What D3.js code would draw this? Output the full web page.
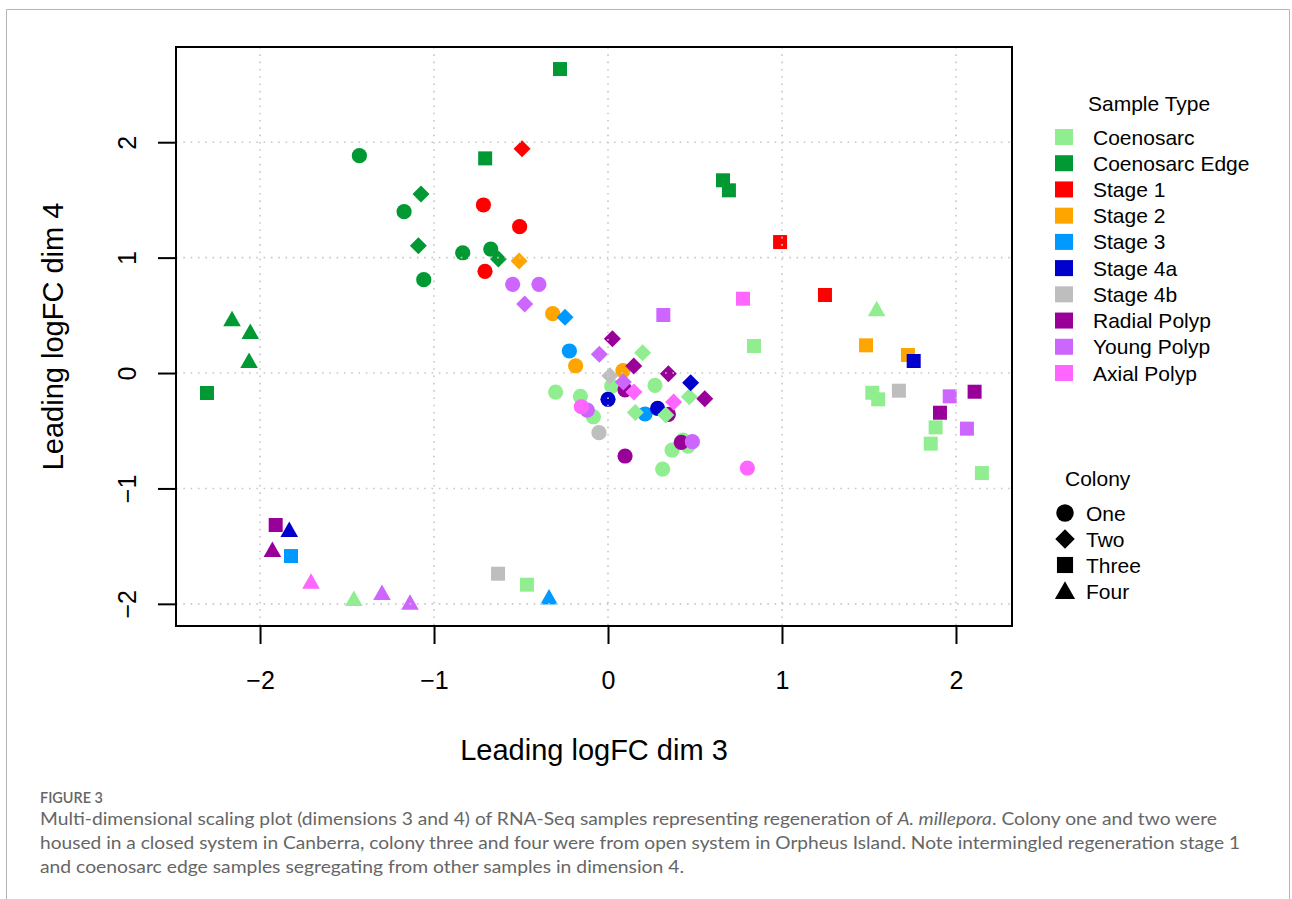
<!DOCTYPE html>
<html>
<head>
<meta charset="utf-8">
<script src="https://cdn.jsdelivr.net/npm/d3@7"></script>
<style>
  body { margin: 0; background: #fff; }
  svg { display: block; }
</style>
</head>
<body>
<div id="chart"></div>
<script>
// sample types, legend order
var sampleTypes = ["Coenosarc", "Coenosarc Edge", "Stage 1", "Stage 2", "Stage 3",
  "Stage 4a", "Stage 4b", "Radial Polyp", "Young Polyp", "Axial Polyp"];
var typeColors = ["#90EE90", "#009933", "#FF0000", "#FFA500", "#0099FF",
  "#0000CC", "#BEBEBE", "#990099", "#CC66FF", "#FF66FF"];
var colonies = ["One", "Two", "Three", "Four"];
var xTicks = [-2, -1, 0, 1, 2];
var yTicks = [-2, -1, 0, 1, 2];

// [dim 3, dim 4, colony]
var coenosarc = [
  [0.839, 0.234, 3], [1.544, 0.552, 4], [0.199, 0.176, 2], [-0.301, -0.165, 1],
  [-0.159, -0.202, 1], [-0.084, -0.379, 1], [0.021, -0.113, 1], [0.270, -0.107, 1],
  [0.157, -0.341, 2], [0.332, -0.364, 2], [0.467, -0.205, 2], [0.368, -0.667, 1],
  [0.431, -0.581, 1], [0.460, -0.633, 1], [0.314, -0.832, 1], [1.519, -0.171, 3],
  [1.553, -0.228, 3], [1.883, -0.471, 3], [1.855, -0.612, 3], [2.149, -0.867, 3],
  [-0.466, -1.834, 3], [-1.461, -1.958, 4]
];
var coenosarcEdge = [
  [-0.276, 2.634, 3], [-0.706, 1.860, 3], [-1.429, 1.883, 1], [-1.075, 1.551, 2],
  [-1.172, 1.398, 1], [-1.090, 1.103, 2], [-0.835, 1.042, 1], [-0.674, 1.074, 1],
  [-0.630, 0.988, 2], [-1.059, 0.809, 1], [0.661, 1.670, 3], [0.695, 1.583, 3],
  [-2.161, 0.465, 4], [-2.056, 0.355, 4], [-2.063, 0.104, 4], [-2.305, -0.173, 3]
];
var stage1 = [
  [-0.494, 1.944, 2], [-0.716, 1.456, 1], [-0.508, 1.268, 1], [-0.707, 0.881, 1],
  [0.989, 1.135, 3], [1.247, 0.676, 3]
];
var stage2 = [
  [-0.511, 0.971, 2], [-0.318, 0.514, 1], [-0.186, 0.063, 1], [0.086, 0.020, 1],
  [1.483, 0.240, 3], [1.724, 0.156, 3]
];
var stage3 = [
  [-0.247, 0.483, 2], [-0.222, 0.191, 1], [0.213, -0.355, 1], [-1.822, -1.586, 3],
  [-0.339, -1.944, 4]
];
var stage4a = [
  [0.000, -0.228, 1], [0.285, -0.306, 1], [0.475, -0.084, 2], [1.757, 0.104, 3],
  [-1.832, -1.360, 4]
];
var stage4b = [
  [0.011, -0.023, 2], [-0.052, -0.517, 1], [1.672, -0.153, 3], [-0.632, -1.739, 3]
];
var radialPolyp = [
  [0.025, 0.297, 2], [0.148, 0.061, 2], [0.347, -0.006, 2], [0.556, -0.222, 2],
  [0.098, -0.147, 1], [0.347, -0.358, 1], [0.098, -0.719, 1], [0.421, -0.601, 1],
  [1.908, -0.344, 3], [2.107, -0.162, 3], [-1.910, -1.317, 3], [-1.929, -1.534, 4]
];
var youngPolyp = [
  [-0.548, 0.769, 1], [-0.397, 0.769, 1], [-0.479, 0.598, 2], [-0.050, 0.162, 2],
  [0.088, -0.078, 2], [-0.119, -0.321, 1], [0.485, -0.595, 1], [0.318, 0.503, 3],
  [1.964, -0.202, 3], [2.063, -0.482, 3], [-1.299, -1.906, 4], [-1.138, -1.990, 4]
];
var axialPolyp = [
  [0.776, 0.644, 3], [0.149, -0.165, 2], [0.377, -0.251, 2], [-0.153, -0.292, 1],
  [0.801, -0.823, 1], [-1.707, -1.809, 4]
];
var seriesByType = [coenosarc, coenosarcEdge, stage1, stage2, stage3,
  stage4a, stage4b, radialPolyp, youngPolyp, axialPolyp];

var W = 1292, H = 899;
var plot = { left: 176, right: 1012, top: 47, bottom: 626 };

var svg = d3.select("#chart").append("svg")
  .attr("width", W)
  .attr("height", H);

// page border
svg.append("path")
  .attr("d", "M6.5," + H + "V9.5H1289.5V" + H)
  .attr("fill", "none")
  .attr("stroke", "#b4b4b4")
  .attr("stroke-width", 1);

var x = d3.scaleLinear().domain([-2.483, 2.322]).range([plot.left, plot.right]);
var y = d3.scaleLinear().domain([2.825, -2.192]).range([plot.top, plot.bottom]);

var fmt = function (d) { return d < 0 ? "\u2212" + Math.abs(d) : String(d); };

// marker path for each colony, centred on 0,0
function shape(colony, s) {
  s = s || 1;
  if (colony === 1) {
    var r = 7.6 * s;
    return "M" + (-r) + ",0A" + r + "," + r + " 0 1,0 " + r + ",0A" + r + "," + r + " 0 1,0 " + (-r) + ",0Z";
  }
  if (colony === 2) {
    var d = 8.5 * s;
    return "M0," + (-d) + "L" + d + ",0L0," + d + "L" + (-d) + ",0Z";
  }
  if (colony === 3) {
    var h = 7 * s;
    return "M" + (-h) + "," + (-h) + "H" + h + "V" + h + "H" + (-h) + "Z";
  }
  var w = 8.8 * s;
  return "M0," + (-8.5 * s) + "L" + w + "," + (7 * s) + "H" + (-w) + "Z";
}

// flatten, drawn colony by colony then type by type
var points = [];
seriesByType.forEach(function (arr, ti) {
  arr.forEach(function (p) {
    points.push({ x: p[0], y: p[1], colony: p[2], type: ti });
  });
});
points.sort(function (a, b) { return (a.colony - b.colony) || (a.type - b.type); });

svg.append("g").attr("class", "points")
  .selectAll("path")
  .data(points)
  .enter()
  .append("path")
  .attr("d", function (d) { return shape(d.colony); })
  .attr("transform", function (d) { return "translate(" + x(d.x) + "," + y(d.y) + ")"; })
  .attr("fill", function (d) { return typeColors[d.type]; });

// dotted grid (on top of the points, like the original)
var grid = svg.append("g").attr("class", "grid")
  .attr("stroke", "#c8c8c8")
  .attr("stroke-width", 1.6)
  .attr("stroke-dasharray", "1.6,5.7");
grid.selectAll("line.v").data(xTicks).enter().append("line")
  .attr("x1", function (d) { return x(d); }).attr("x2", function (d) { return x(d); })
  .attr("y1", plot.top).attr("y2", plot.bottom);
grid.selectAll("line.h").data(yTicks).enter().append("line")
  .attr("y1", function (d) { return y(d); }).attr("y2", function (d) { return y(d); })
  .attr("x1", plot.left).attr("x2", plot.right);

// axes
var xAxis = svg.append("g")
  .attr("transform", "translate(0," + plot.bottom + ")")
  .call(d3.axisBottom(x).tickValues(xTicks).tickFormat(fmt).tickSize(18).tickPadding(27));
var yAxis = svg.append("g")
  .attr("transform", "translate(" + plot.left + ",0)")
  .call(d3.axisLeft(y).tickValues(yTicks).tickFormat(fmt).tickSize(18));

[xAxis, yAxis].forEach(function (g) {
  g.select(".domain").remove();
  g.selectAll(".tick line").attr("stroke", "#000").attr("stroke-width", 2);
  g.selectAll(".tick text")
    .attr("fill", "#000")
    .style("font-family", "'Liberation Sans', Arial, sans-serif")
    .style("font-size", "25px");
});
yAxis.selectAll(".tick text")
  .attr("x", null).attr("dy", null)
  .attr("text-anchor", "middle")
  .attr("transform", "translate(-40,0) rotate(-90)");

// frame
svg.append("rect")
  .attr("x", plot.left).attr("y", plot.top)
  .attr("width", plot.right - plot.left).attr("height", plot.bottom - plot.top)
  .attr("fill", "none").attr("stroke", "#000").attr("stroke-width", 2);

// axis titles
var titleFont = "'Liberation Sans', Arial, sans-serif";
svg.append("text")
  .attr("x", (plot.left + plot.right) / 2).attr("y", 760)
  .attr("text-anchor", "middle")
  .style("font-family", titleFont).style("font-size", "29px")
  .text("Leading logFC dim 3");
svg.append("text")
  .attr("transform", "translate(63," + ((plot.top + plot.bottom) / 2) + ") rotate(-90)")
  .attr("text-anchor", "middle")
  .style("font-family", titleFont).style("font-size", "29px")
  .text("Leading logFC dim 4");

// legend: sample type
var leg = svg.append("g").style("font-family", titleFont).style("font-size", "21px");
leg.append("text").attr("x", 1088).attr("y", 111).text("Sample Type");
var rowY = d3.scaleLinear().domain([0, 9]).range([137, 373]);
var items = leg.selectAll("g.item").data(sampleTypes).enter().append("g")
  .attr("transform", function (d, i) { return "translate(0," + rowY(i) + ")"; });
items.append("rect")
  .attr("x", 1055).attr("y", -8).attr("width", 18).attr("height", 16)
  .attr("fill", function (d, i) { return typeColors[i]; });
items.append("text").attr("x", 1093).attr("y", 7.5).text(function (d) { return d; });

// legend: colony
leg.append("text").attr("x", 1065).attr("y", 486).text("Colony");
var colY = d3.scaleLinear().domain([0, 3]).range([513, 591]);
var citems = leg.selectAll("g.col").data(colonies).enter().append("g")
  .attr("transform", function (d, i) { return "translate(0," + colY(i) + ")"; });
citems.append("path")
  .attr("transform", "translate(1065,0)")
  .attr("d", function (d, i) { return shape(i + 1, 1.15); })
  .attr("fill", "#000");
citems.append("text").attr("x", 1086).attr("y", 7.5).text(function (d) { return d; });

// caption
var cap = svg.append("g").style("font-family", "Lato, 'Open Sans', sans-serif").attr("fill", "#666");
cap.append("text").attr("x", 40).attr("y", 803)
  .style("font-size", "16px").style("font-weight", "600")
  .attr("textLength", 63).attr("lengthAdjust", "spacingAndGlyphs")
  .text("FIGURE 3");
var line1 = cap.append("text").attr("x", 40).attr("y", 825).style("font-size", "16.5px")
  .attr("textLength", 1177).attr("lengthAdjust", "spacingAndGlyphs");
line1.append("tspan").text("Multi-dimensional scaling plot (dimensions 3 and 4) of RNA-Seq samples representing regeneration of ");
line1.append("tspan").style("font-style", "italic").text("A. millepora");
line1.append("tspan").text(". Colony one and two were");
cap.append("text").attr("x", 40).attr("y", 849).style("font-size", "16.5px")
  .attr("textLength", 1200).attr("lengthAdjust", "spacingAndGlyphs")
  .text("housed in a closed system in Canberra, colony three and four were from open system in Orpheus Island. Note intermingled regeneration stage 1");
cap.append("text").attr("x", 40).attr("y", 873).style("font-size", "16.5px")
  .attr("textLength", 644).attr("lengthAdjust", "spacingAndGlyphs")
  .text("and coenosarc edge samples segregating from other samples in dimension 4.");
</script>
</body>
</html>
